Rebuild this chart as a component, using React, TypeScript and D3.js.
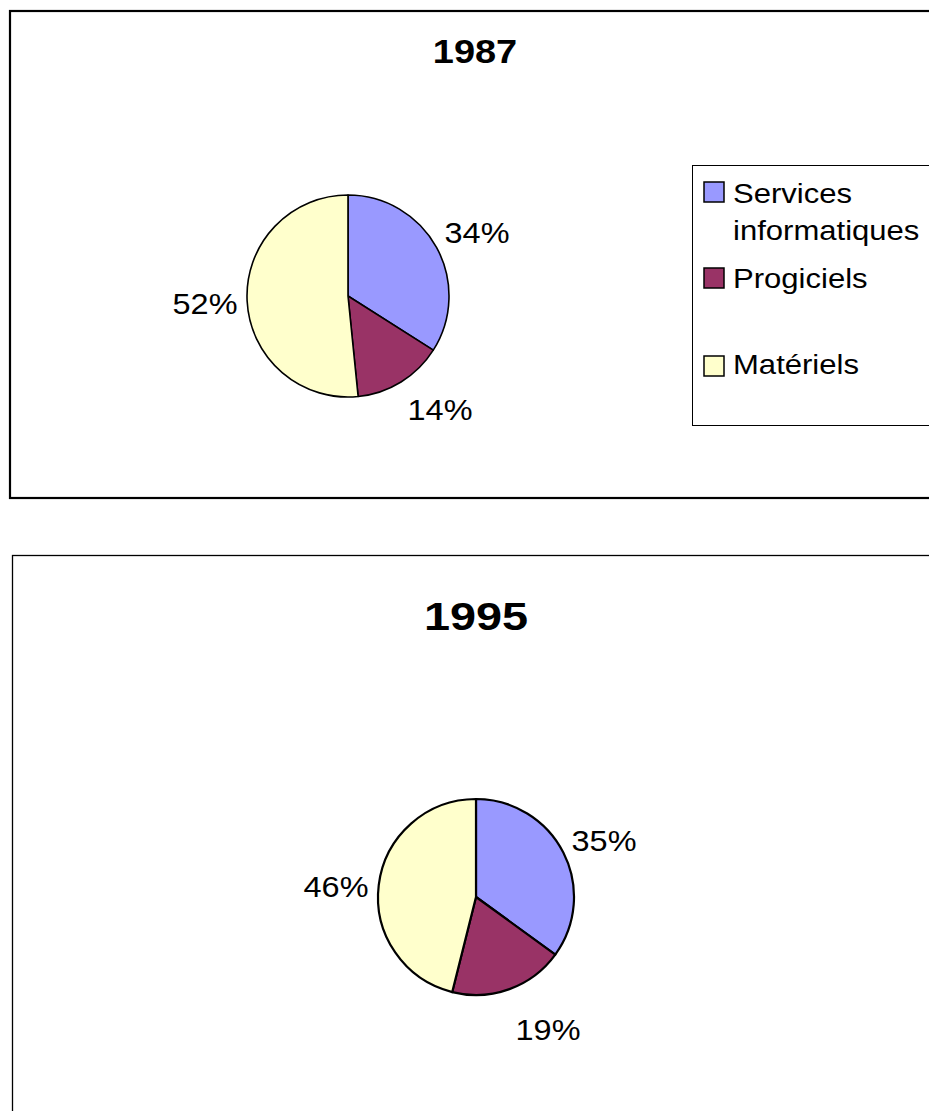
import React, { useEffect } from "react";
import * as d3 from "d3";

const categories = ["Services informatiques", "Progiciels", "Matériels"];
const legendLines = [["Services", "informatiques"], ["Progiciels"], ["Matériels"]];
const colors = ["#9999FF", "#993366", "#FFFFCC"];
const values1987 = [34.0, 14.4, 51.6];
const labels1987 = ["34%", "14%", "52%"];
const values1995 = [35.0, 18.9, 46.1];
const labels1995 = ["35%", "19%", "46%"];

const FONT = "'Liberation Sans', Arial, Helvetica, sans-serif";

type TProps = {
  x: number;
  y: number;
  sx: number;
  size: number;
  anchor?: "start" | "middle" | "end";
  bold?: boolean;
  children: React.ReactNode;
};

function T({ x, y, sx, size, anchor = "start", bold = false, children }: TProps) {
  return (
    <text
      transform={`translate(${x},${y}) scale(${sx},1)`}
      textAnchor={anchor}
      fontFamily={FONT}
      fontWeight={bold ? "bold" : "normal"}
      fontSize={size}
      fill="#000"
    >
      {children}
    </text>
  );
}

type PieProps = {
  values: number[];
  labels: string[];
  cx: number;
  cy: number;
  r: number;
  sw: number;
  labelPos: [number, number][];
  fontSize: number;
};

function Pie({ values, labels, cx, cy, r, sw, labelPos, fontSize }: PieProps) {
  const pie = d3.pie<number>().sort(null).value((d) => d)(values);
  const arc = d3.arc<d3.PieArcDatum<number>>().innerRadius(0).outerRadius(r);
  return (
    <g>
      <g transform={`translate(${cx},${cy})`}>
        {pie.map((p, i) => (
          <path key={i} d={arc(p) || ""} fill={colors[i]} stroke="#000" strokeWidth={sw} strokeLinejoin="round" />
        ))}
      </g>
      {labels.map((t, i) => (
        <T key={i} x={labelPos[i][0]} y={labelPos[i][1]} sx={1.12} size={fontSize} anchor="middle">
          {t}
        </T>
      ))}
    </g>
  );
}

export default function App() {
  useEffect(() => {
    document.body.style.margin = "0";
  }, []);
  const swatchY = [182, 268, 356];
  const textY = [[203, 240], [288], [374]];
  return (
    <svg width={929} height={1111} style={{ display: "block", background: "#fff" }}>
      <rect x={0} y={0} width={929} height={1111} fill="#fff" />
      {/* top chart frame */}
      <rect x={10} y={11} width={940} height={487} fill="#fff" stroke="#000" strokeWidth={2.2} />
      <T x={475} y={63} sx={1.15} size={33} anchor="middle" bold>1987</T>
      <Pie
        values={values1987}
        labels={labels1987}
        cx={348}
        cy={296}
        r={101}
        sw={1.6}
        labelPos={[[477, 243], [440, 420], [205, 314]]}
        fontSize={29}
      />
      {/* legend */}
      <rect x={692.5} y={165.5} width={260} height={260} fill="#fff" stroke="#000" strokeWidth={1} />
      {categories.map((c, i) => (
        <g key={c}>
          <rect x={704} y={swatchY[i]} width={20} height={20} fill={colors[i]} stroke="#000" strokeWidth={1.5} />
          {legendLines[i].map((ln, j) => (
            <T key={j} x={733} y={textY[i][j]} sx={1.09} size={28.5}>{ln}</T>
          ))}
        </g>
      ))}
      {/* bottom chart frame */}
      <rect x={12.5} y={555.5} width={940} height={600} fill="#fff" stroke="#000" strokeWidth={1.3} />
      <T x={476} y={630} sx={1.2} size={39} anchor="middle" bold>1995</T>
      <Pie
        values={values1995}
        labels={labels1995}
        cx={476}
        cy={897}
        r={98}
        sw={2.2}
        labelPos={[[604, 851], [548, 1040], [336, 897]]}
        fontSize={29}
      />
    </svg>
  );
}
